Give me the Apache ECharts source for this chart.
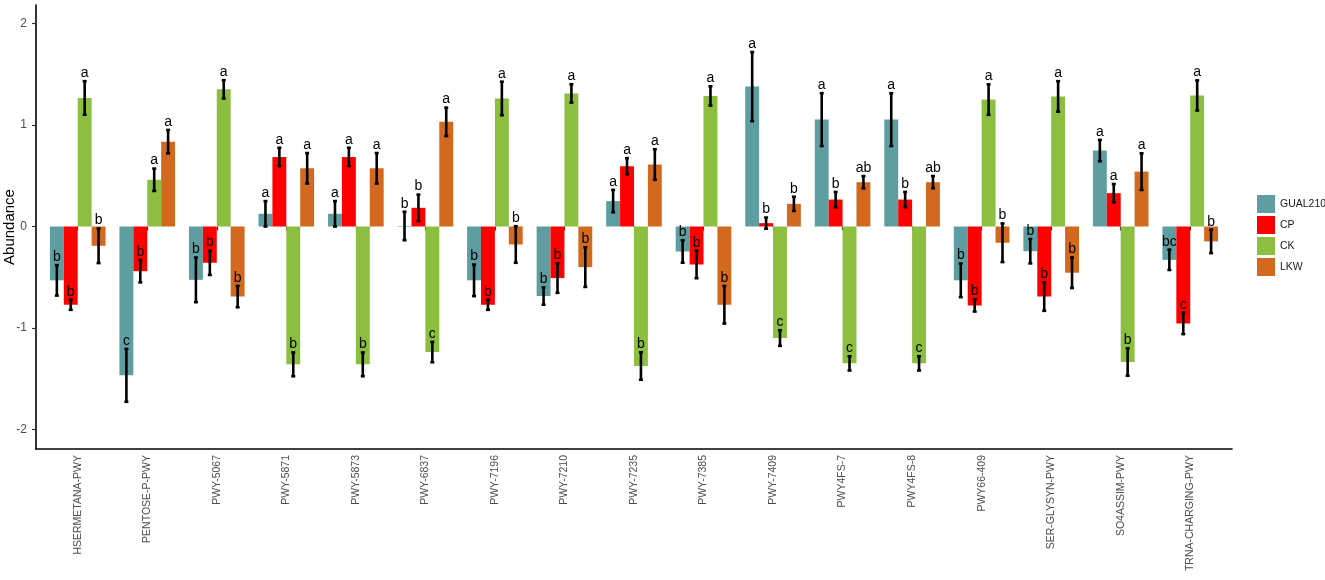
<!DOCTYPE html>
<html>
<head>
<meta charset="utf-8">
<script src="https://cdn.jsdelivr.net/npm/echarts@6/dist/echarts.min.js"></script>
<style>html,body{margin:0;padding:0;background:#fff;}#chart{width:1325px;height:580px;}</style>
</head>
<body>
<div id="chart"></div>
<script>
const categories = ["HSERMETANA-PWY","PENTOSE-P-PWY","PWY-5067","PWY-5871","PWY-5873","PWY-6837","PWY-7196","PWY-7210","PWY-7235","PWY-7385","PWY-7409","PWY4FS-7","PWY4FS-8","PWY66-409","SER-GLYSYN-PWY","SO4ASSIM-PWY","TRNA-CHARGING-PWY"];
const groupNames = ["GUAL210","CP","CK","LKW"];

const gual210 = [-0.53,-1.465,-0.525,0.125,0.125,0.005,-0.53,-0.685,0.25,-0.246,1.377,1.052,1.052,-0.53,-0.243,0.747,-0.328];
const gual210Se = [0.15,0.26,0.22,0.125,0.125,0.14,0.155,0.085,0.11,0.11,0.34,0.26,0.26,0.165,0.12,0.105,0.1];
const gual210Sig = ["b","c","b","a","a","b","b","b","a","b","a","a","a","b","b","a","bc"];

const cp = [-0.77,-0.44,-0.357,0.685,0.685,0.184,-0.77,-0.508,0.593,-0.374,0.033,0.265,0.265,-0.777,-0.69,0.328,-0.954];
const cpSe = [0.05,0.11,0.12,0.09,0.09,0.13,0.05,0.145,0.08,0.135,0.055,0.075,0.075,0.06,0.14,0.09,0.105];
const cpSig = ["b","b","b","a","a","b","b","b","a","b","b","b","b","b","b","a","c"];

const ck = [1.265,0.46,1.35,-1.357,-1.357,-1.236,1.26,1.31,-1.373,1.285,-1.098,-1.347,-1.347,1.249,1.28,-1.334,1.29];
const ckSe = [0.165,0.11,0.09,0.117,0.117,0.1,0.165,0.09,0.135,0.095,0.077,0.07,0.07,0.15,0.15,0.135,0.148];
const ckSig = ["a","a","a","b","b","c","a","a","b","a","c","c","c","a","a","b","a"];

const lkw = [-0.19,0.835,-0.69,0.573,0.573,1.03,-0.177,-0.40,0.61,-0.77,0.223,0.436,0.436,-0.16,-0.455,0.54,-0.147];
const lkwSe = [0.17,0.115,0.105,0.15,0.15,0.14,0.18,0.195,0.15,0.185,0.07,0.06,0.06,0.19,0.15,0.18,0.115];
const lkwSig = ["b","a","b","a","a","a","b","b","a","b","b","ab","ab","b","b","a","b"];

const yTicks = [-2,-1,0,1,2];

const colors = ["#5F9EA0","#FF0000","#8CBE3F","#D2691E"];
const means = [gual210, cp, ck, lkw];
const ses = [gual210Se, cpSe, ckSe, lkwSe];
const sigs = [gual210Sig, cpSig, ckSig, lkwSig];

const Y_MIN = -2.19, Y_MAX = 2.18;
const FONT = 'Liberation Sans, Arial, sans-serif';

const series = [];
groupNames.forEach((name, k) => {
  series.push({
    name: name,
    type: 'bar',
    xAxisIndex: 0, yAxisIndex: 0,
    data: means[k],
    itemStyle: { color: colors[k] },
    barGap: '0%',
    barCategoryGap: '20%',
    emphasis: { disabled: true },
    z: 2
  });
});
groupNames.forEach((name, k) => {
  series.push({
    type: 'custom',
    xAxisIndex: 0, yAxisIndex: 0,
    data: means[k].map((m, i) => [i, m, ses[k][i]]),
    z: 5,
    silent: true,
    renderItem: function (params, api) {
      const i = api.value(0), m = api.value(1), s = api.value(2);
      const band = api.size([1, 0])[0];
      const bw = band * 0.8 / 4;
      const cx = api.coord([i, m])[0] + (k - 1.5) * bw;
      const yt = api.coord([i, m + s])[1];
      const yb = api.coord([i, m - s])[1];
      const cap = 2;
      const st = { stroke: '#000', lineWidth: 2.6 };
      return {
        type: 'group',
        children: [
          { type: 'line', shape: { x1: cx, y1: yt, x2: cx, y2: yb }, style: st },
          { type: 'line', shape: { x1: cx - cap, y1: yt, x2: cx + cap, y2: yt }, style: st },
          { type: 'line', shape: { x1: cx - cap, y1: yb, x2: cx + cap, y2: yb }, style: st },
          { type: 'text', style: { text: sigs[k][params.dataIndex], x: cx, y: yt - 1, align: 'center', verticalAlign: 'bottom', fontSize: 14, fontFamily: FONT, fill: '#000' } }
        ]
      };
    }
  });
});

const chart = echarts.init(document.getElementById('chart'));
chart.setOption({
  animation: false,
  backgroundColor: '#fff',
  legend: {
    data: groupNames,
    orient: 'vertical',
    left: 1252,
    top: 190,
    icon: 'rect',
    itemWidth: 18,
    itemHeight: 18,
    itemGap: 3,
    textStyle: { fontSize: 10.5, color: '#1a1a1a', fontFamily: FONT },
    selectedMode: false
  },
  grid: [
    { left: 42.95, right: 100, top: 5, bottom: 131, outerBoundsMode: 'none', containLabel: false },
    { left: 36, right: 93, top: 5, bottom: 131, outerBoundsMode: 'none', containLabel: false }
  ],
  xAxis: [
    {
      type: 'category', gridIndex: 0, data: categories,
      axisLine: { show: false },
      axisTick: { show: true, alignWithLabel: true, length: 4, lineStyle: { color: '#333', width: 1.2 } },
      axisLabel: { rotate: 90, interval: 0, fontSize: 10.5, color: '#4D4D4D', margin: 6, fontFamily: FONT },
      splitLine: { show: false }
    },
    {
      type: 'value', gridIndex: 1, min: 0, max: 1,
      axisLine: { show: true, onZero: false, lineStyle: { color: '#000', width: 1.6 } },
      axisTick: { show: false }, axisLabel: { show: false }, splitLine: { show: false }
    }
  ],
  yAxis: [
    {
      type: 'value', gridIndex: 0, min: Y_MIN, max: Y_MAX,
      show: false, splitLine: { show: false }
    },
    {
      type: 'value', gridIndex: 1, min: Y_MIN, max: Y_MAX,
      name: 'Abundance', nameLocation: 'middle', nameGap: 19, nameMoveOverlap: false,
      nameTextStyle: { fontSize: 15, color: '#000', fontFamily: FONT },
      axisLine: { show: true, onZero: false, lineStyle: { color: '#000', width: 1.6 } },
      axisTick: { show: true, length: 4, customValues: yTicks, lineStyle: { color: '#333', width: 1.2 } },
      axisLabel: { customValues: yTicks, fontSize: 12, color: '#4D4D4D', margin: 9, fontFamily: FONT },
      splitLine: { show: false }
    }
  ],
  series: series
});
</script>
</body>
</html>
